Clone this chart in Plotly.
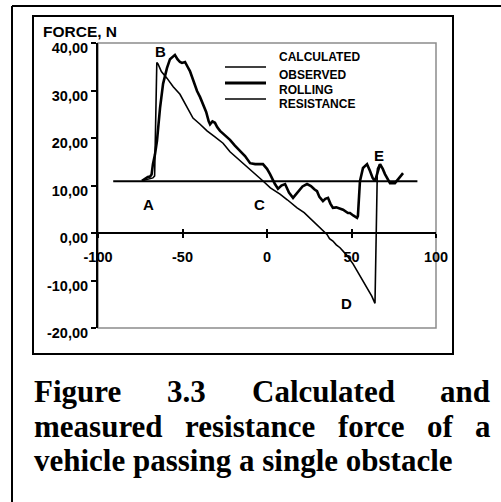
import plotly.graph_objects as go

# ---------------- data ----------------
calc_x = [-74, -70, -67.5, -66.5, -65.8, -65.2, -64.5, -62.5, -59.2, -55.5, -51.5, -47.5,
          -43.8, -39.6, -35.5, -31, -26, -21.9, -16, -10, -6, -2.2, 2, 7.7, 12, 17.8, 22,
          27.2, 30.5, 33.1, 35.5, 37, 39, 41, 43.2, 47, 50.9, 54, 56.8, 60, 62, 63.9,
          64.8, 65.3, 66.5]
calc_y = [11.0, 11.3, 11.6, 12.0, 30.0, 35.9, 35.6, 34.0, 32.6, 30.8, 29.2, 26.6,
          24.2, 22.9, 21.5, 20.3, 18.9, 17.1, 15.3, 13.3, 12.1, 10.9, 9.5, 8.2, 7.0, 5.3, 4.3,
          2.5, 1.4, 0.4, -0.3, -1.2, -1.7, -2.5, -3.1, -4.6, -6.5, -8.4, -10.1, -12.0, -13.3, -14.8,
          0.0, 13.5, 14.4]

obs_x = [-74, -72.2, -70.5, -69.2, -68.3, -67.5, -66.3, -65.1, -63.3, -61.5, -59.2, -57.4,
         -55.6, -54.5, -53, -51.5, -50.3, -48.5, -47, -45.6, -43.5, -41.4, -39.6, -37.9,
         -36, -34.5, -33.7, -32.3, -30.8, -29.5, -27.8, -25, -21.9, -19, -16, -13, -10,
         -7, -2.4, 0, 1.8, 3.5, 4.7, 6.5, 8.5, 10.7, 13, 15.4, 18, 21, 23.7, 26, 28,
         29.6, 31, 33.1, 34.5, 36.1, 37.5, 39, 41, 43.2, 45, 47.9, 49.1, 51, 53.3, 53.8,
         54.3, 55, 56.8, 59.2, 60.9, 62.5, 63.9, 65.5, 66.9, 68.5, 69.8, 72.8, 75.7, 78, 80.5]
obs_y = [11.0, 11.4, 11.8, 11.9, 12.3, 14.5, 16.5, 19.4, 26.3, 31.4, 34.7, 36.6,
         37.3, 37.5, 36.6, 36.0, 35.8, 36.0, 35.0, 34.1, 32.0, 29.9, 28.6, 27.2,
         25.5, 23.5, 22.9, 23.5, 23.2, 22.3, 21.5, 20.6, 19.6, 18.4, 17.3, 16.2, 14.7,
         14.5, 14.5, 13.5, 12.4, 11.0, 10.3, 9.3, 10.0, 10.3, 8.5, 7.4, 8.6, 9.8, 10.3, 9.9, 9.2,
         8.8, 7.6, 6.7, 7.2, 7.4, 6.2, 5.3, 5.4, 5.1, 4.9, 4.2, 4.2, 3.7, 3.2, 3.6,
         7.0, 10.9, 13.7, 14.5, 13.1, 11.6, 10.9, 13.0, 14.5, 13.5, 12.4, 10.5, 10.5, 11.5, 12.6]

roll_x = [-91, 89]
roll_y = [10.9, 10.9]

x_ticks = [-100, -50, 0, 50, 100]
x_labels = ["-100", "-50", "0", "50", "100"]
y_ticks = [-20, -10, 0, 10, 20, 30, 40]
y_labels = ["-20,00", "-10,00", "0,00", "10,00", "20,00", "30,00", "40,00"]

point_labels = ["A", "B", "C", "D", "E"]
point_x = [-70.4, -63.3, -4.7, 47.3, 66.3]
point_y = [5.9, 38.3, 6.1, -14.9, 16.4]

legend_names = ["CALCULATED", "OBSERVED", "ROLLING", "RESISTANCE"]

caption_lines = [["Figure", "3.3", "Calculated", "and"],
                 ["measured", "resistance", "force", "of", "a"],
                 ["vehicle passing a single obstacle"]]

# ---------------- layout helpers ----------------
W, H = 501, 502
L, R, T, B = 98, 436, 43, 328
SANS = "Liberation Sans, Arial, sans-serif"
SERIF = "Liberation Serif, Times New Roman, serif"


def fx(px):
    return (px - L) / (R - L)


def fy(py):
    return (B - py) / (B - T)


fig = go.Figure()
fig.add_trace(go.Scatter(x=calc_x, y=calc_y, mode="lines",
                         line=dict(color="black", width=1.6), showlegend=False))
fig.add_trace(go.Scatter(x=obs_x, y=obs_y, mode="lines",
                         line=dict(color="black", width=2.6), showlegend=False))
fig.add_trace(go.Scatter(x=roll_x, y=roll_y, mode="lines", xaxis="x2",
                         line=dict(color="black", width=1.8), showlegend=False))

shapes = []
# outer frame (top and left)
shapes.append(dict(type="line", xref="paper", yref="paper", x0=fx(12), x1=fx(505),
                   y0=fy(6), y1=fy(6), line=dict(color="black", width=2)))
shapes.append(dict(type="line", xref="paper", yref="paper", x0=fx(12), x1=fx(12),
                   y0=fy(6), y1=fy(505), line=dict(color="black", width=2)))
# inner box
shapes.append(dict(type="rect", xref="paper", yref="paper", x0=fx(33), x1=fx(453),
                   y0=fy(354), y1=fy(16), line=dict(color="black", width=2)))
# plot border (grey)
shapes.append(dict(type="rect", xref="paper", yref="paper", x0=0, x1=1, y0=0, y1=1,
                   layer="below", line=dict(color="#8c8c8c", width=1.5)))
# legend samples
for py, w in [(67, 1.6), (83, 3), (99, 1.6)]:
    shapes.append(dict(type="line", xref="paper", yref="paper", x0=fx(225), x1=fx(266),
                       y0=fy(py), y1=fy(py), line=dict(color="black", width=w)))

ann = []
ann.append(dict(text="<b>FORCE, N</b>", xref="paper", yref="paper", x=fx(42), y=fy(31.5),
                xanchor="left", yanchor="middle", showarrow=False, borderpad=0,
                font=dict(family=SANS, size=15.5, color="black")))
for name, py in zip(legend_names, [57, 75, 90, 104]):
    ann.append(dict(text="<b>%s</b>" % name, xref="paper", yref="paper", x=fx(277), y=fy(py),
                    xanchor="left", yanchor="middle", showarrow=False,
                    font=dict(family=SANS, size=12, color="black")))
for t, x, y in zip(point_labels, point_x, point_y):
    ann.append(dict(text="<b>%s</b>" % t, x=x, y=y, xref="x", yref="y", showarrow=False,
                    xanchor="center", yanchor="middle",
                    font=dict(family=SANS, size=15, color="black")))

# caption, justified
TW = {" ": 250, ".": 250, "3": 500, "F": 611, "C": 722, "a": 500, "b": 556, "c": 444,
      "d": 556, "e": 444, "f": 333, "g": 500, "h": 556, "i": 278, "l": 278, "m": 833,
      "n": 556, "o": 500, "p": 556, "r": 444, "s": 389, "t": 333, "u": 556, "v": 500}
CS = 31
LEFT, RIGHT = 33, 489
baselines = [402, 437, 471]


def wwidth(w):
    return sum(TW.get(c, 500) for c in w) * CS / 1000.0


for words, base in zip(caption_lines, baselines):
    cy = base - 0.33 * CS
    if len(words) == 1:
        xs = [LEFT]
    else:
        widths = [wwidth(w) for w in words]
        gap = (RIGHT - LEFT - sum(widths)) / (len(words) - 1)
        xs = []
        cur = LEFT
        for wd in widths:
            xs.append(cur)
            cur += wd + gap
    for w, x0 in zip(words, xs):
        ann.append(dict(text="<b>%s</b>" % w, xref="paper", yref="paper", x=fx(x0) - 1.0 / (R - L),
                        y=fy(cy), xanchor="left", yanchor="middle", showarrow=False,
                        font=dict(family=SERIF, size=CS, color="black")))

tickfont = dict(family=SANS, size=14.5, color="black", weight="bold")

fig.update_layout(
    width=W, height=H, autosize=False,
    margin=dict(l=L, r=W - R, t=T, b=H - B, pad=0),
    paper_bgcolor="white", plot_bgcolor="white",
    showlegend=False,
    shapes=shapes, annotations=ann,
    xaxis=dict(range=[-100, 100], anchor="free", position=1.0 / 3.0,
               showgrid=False, zeroline=False, showline=True, linecolor="black", linewidth=2,
               ticks="outside", ticklen=4, tickwidth=2, tickcolor="black",
               tickvals=x_ticks, ticktext=x_labels, tickfont=tickfont,
               ticklabelstandoff=7),
    xaxis2=dict(range=[-100, 100], matches="x", overlaying="x", anchor="free", position=1.0 / 3.0,
                showgrid=False, zeroline=False, showline=False,
                ticks="inside", ticklen=4, tickwidth=2, tickcolor="black",
                tickvals=x_ticks, showticklabels=False),
    yaxis=dict(range=[-20, 40], showgrid=False, zeroline=False, showline=True,
               linecolor="black", linewidth=2, ticks="outside", ticklen=5, tickwidth=2,
               tickcolor="black", tickvals=y_ticks, ticktext=y_labels, tickfont=tickfont,
               ticklabelshift=5),
)

fig.write_html("out.html")
